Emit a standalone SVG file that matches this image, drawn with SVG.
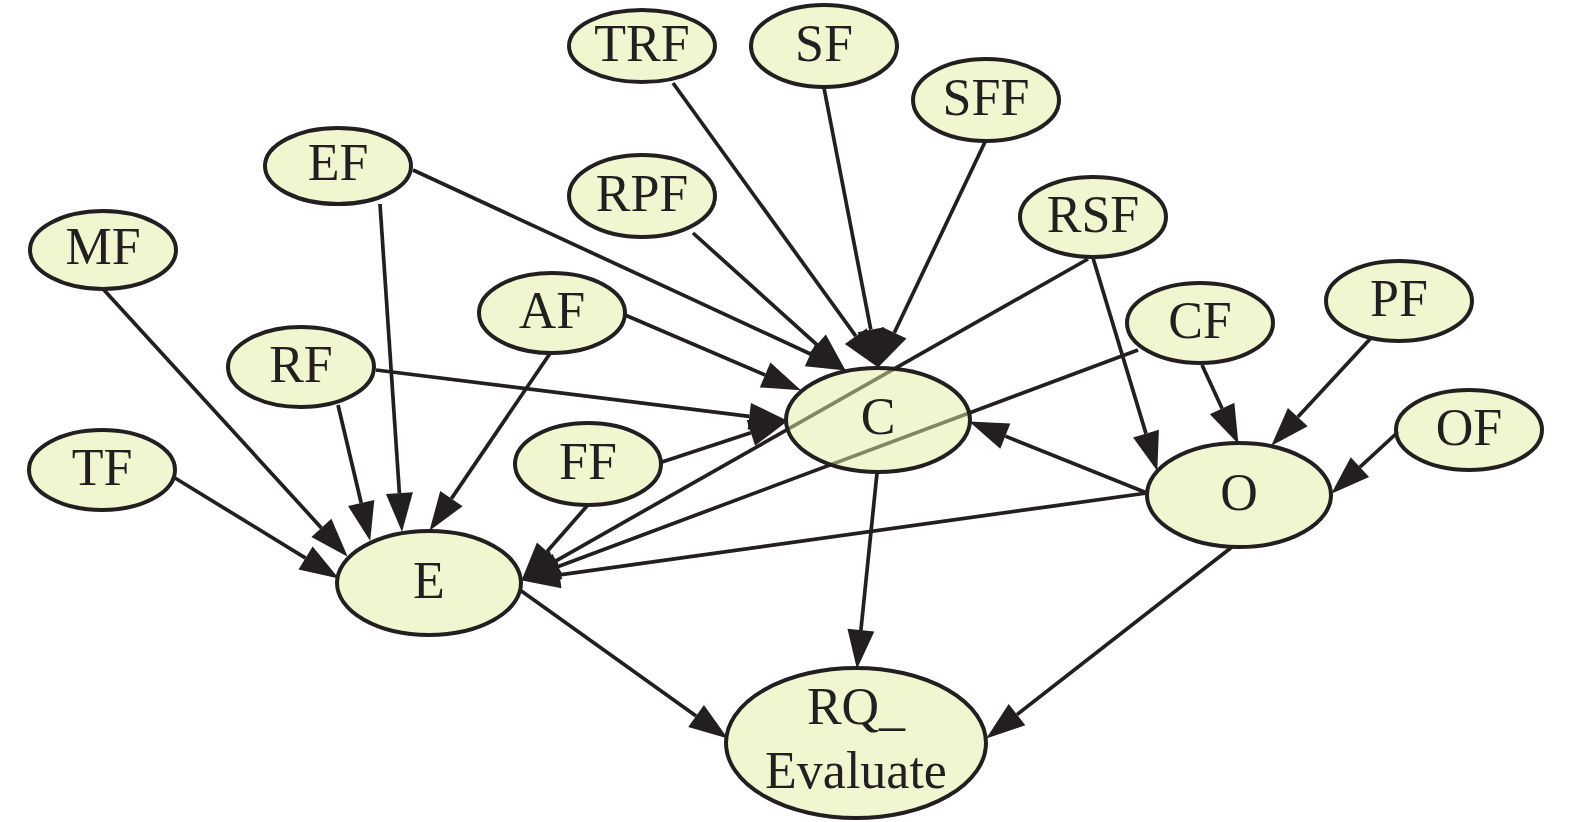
<svg xmlns="http://www.w3.org/2000/svg" width="1575" height="822" viewBox="0 0 1575 822">
<defs>
<style>
.edge{fill:none;stroke:#231f20;stroke-width:3.7;marker-end:url(#arr)}
.node ellipse{fill:#e1efa1;fill-opacity:0.5;stroke:#231f20;stroke-width:4}
.node text{font-family:"Liberation Serif","Times New Roman",serif;font-size:52px;fill:#231f20;text-anchor:middle}
</style>
<marker id="arr" markerUnits="userSpaceOnUse" markerWidth="40" markerHeight="28" refX="0" refY="13.5" orient="auto" overflow="visible">
<path d="M0,0 L39,13.5 L0,27 z" fill="#231f20"/>
</marker>
</defs>
<rect width="1575" height="822" fill="#ffffff"/>
<g id="connectors">
<path class="edge" d="M673,83 L855.8,336.2"/>
<path class="edge" d="M824,88 L870.8,329.7"/>
<path class="edge" d="M985,142 L894.3,332.7"/>
<path class="edge" d="M693,233 L816.8,344.6"/>
<path class="edge" d="M413,170 L810.5,354"/>
<path class="edge" d="M625,315 L765.1,375"/>
<path class="edge" d="M376,370 L749.3,416.3"/>
<path class="edge" d="M662,462 L750.9,432.8"/>
<path class="edge" d="M380,204 L399.4,493.1"/>
<path class="edge" d="M551,352 L451.4,498.6"/>
<path class="edge" d="M338,405 L361.2,503"/>
<path class="edge" d="M104,290 L321.4,527.9"/>
<path class="edge" d="M175,478 L305.6,558.1"/>
<path class="edge" d="M587,506 L547.1,551.5"/>
<path class="edge" d="M1088,259 L555.1,561.3"/>
<path class="edge" d="M1138,350 L557.6,566.7"/>
<path class="edge" d="M1147,493 L559.6,574.8"/>
<path class="edge" d="M1093,258 L1146,433.6"/>
<path class="edge" d="M1202,365 L1222.1,408.5"/>
<path class="edge" d="M1371,338 L1297.8,417.1"/>
<path class="edge" d="M1398,432 L1359.9,467.2"/>
<path class="edge" d="M1147,493 L1005.3,436.1"/>
<path class="edge" d="M877,473 L860.9,630.2"/>
<path class="edge" d="M520,590 L696.1,715.9"/>
<path class="edge" d="M1232,547 L1017,714.6"/>
</g>
<g id="node-TRF" class="node"><ellipse cx="642" cy="46" rx="73" ry="36"/><text x="642" y="61">TRF</text></g>
<g id="node-SF" class="node"><ellipse cx="824" cy="46" rx="73" ry="41"/><text x="824" y="61">SF</text></g>
<g id="node-SFF" class="node"><ellipse cx="986" cy="100" rx="73" ry="41"/><text x="986" y="115">SFF</text></g>
<g id="node-EF" class="node"><ellipse cx="338" cy="166" rx="73" ry="38"/><text x="338" y="180">EF</text></g>
<g id="node-RPF" class="node"><ellipse cx="642" cy="196" rx="73" ry="41"/><text x="642" y="211">RPF</text></g>
<g id="node-RSF" class="node"><ellipse cx="1093" cy="217" rx="73" ry="40"/><text x="1093" y="232">RSF</text></g>
<g id="node-MF" class="node"><ellipse cx="103" cy="250" rx="73" ry="39"/><text x="103" y="264">MF</text></g>
<g id="node-AF" class="node"><ellipse cx="552" cy="313" rx="73" ry="40"/><text x="552" y="328">AF</text></g>
<g id="node-CF" class="node"><ellipse cx="1200" cy="323" rx="73" ry="40"/><text x="1200" y="338">CF</text></g>
<g id="node-PF" class="node"><ellipse cx="1399" cy="301" rx="73" ry="40"/><text x="1399" y="316">PF</text></g>
<g id="node-RF" class="node"><ellipse cx="301" cy="367" rx="73" ry="40"/><text x="301" y="382">RF</text></g>
<g id="node-C" class="node"><ellipse cx="878" cy="420" rx="92" ry="52"/><text x="878" y="434">C</text></g>
<g id="node-OF" class="node"><ellipse cx="1469" cy="430" rx="73" ry="40"/><text x="1469" y="445">OF</text></g>
<g id="node-FF" class="node"><ellipse cx="588" cy="464" rx="73" ry="41"/><text x="588" y="479">FF</text></g>
<g id="node-TF" class="node"><ellipse cx="102" cy="470" rx="73" ry="40"/><text x="102" y="485">TF</text></g>
<g id="node-O" class="node"><ellipse cx="1239" cy="495" rx="92" ry="52"/><text x="1239" y="510">O</text></g>
<g id="node-E" class="node"><ellipse cx="429" cy="583" rx="92" ry="52"/><text x="429" y="598">E</text></g>
<g id="node-RQ_Evaluate" class="node"><ellipse cx="856" cy="743" rx="130" ry="75"/><text x="856" y="724">RQ_</text><text x="856" y="788">Evaluate</text></g>
</svg>
